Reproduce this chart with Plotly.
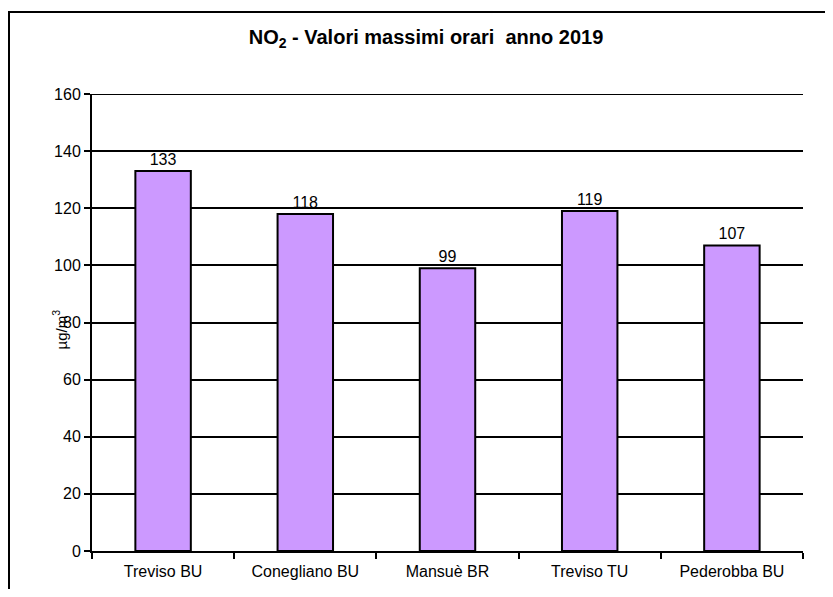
import plotly.graph_objects as go

categories = ["Treviso BU", "Conegliano BU", "Mansuè BR", "Treviso TU", "Pederobba BU"]
values = [133, 118, 99, 119, 107]
y_ticks = [0, 20, 40, 60, 80, 100, 120, 140, 160]

# page has an 8px body margin; work in figure coordinates = screen - 8
OFF = 8
W, H = 817, 581
L, T = 92 - OFF, 94 - OFF
R = W - (803 - OFF)
B = H - (551 - OFF)
pw, ph = W - L - R, H - T - B

def px_x(x):
    return (x - OFF - L) / pw

def px_y(y):
    return (H - B - (y - OFF)) / ph

font = "Liberation Sans, Arial, sans-serif"

fig = go.Figure()
fig.add_trace(go.Bar(
    x=categories, y=values,
    marker=dict(color="#CC99FF", line=dict(color="black", width=2)),
    text=[str(v) for v in values], textposition="outside",
    textfont=dict(family=font, size=16, color="black"),
    cliponaxis=False,
))

fig.update_layout(
    width=W, height=H,
    margin=dict(l=L, r=R, t=T, b=B),
    paper_bgcolor="white", plot_bgcolor="white",
    bargap=0.61,
    showlegend=False,
    font=dict(family=font, size=16, color="black"),
    title=dict(text="<b>NO<sub>2</sub> - Valori massimi orari  anno 2019</b>",
               x=px_x(426), xref="paper", xanchor="center",
               y=1 - (37 - OFF) / H, yanchor="middle",
               font=dict(family=font, size=20, color="black")),
    xaxis=dict(showline=True, linecolor="black", linewidth=2,
               ticks="outside", tickson="boundaries", ticklen=6, tickwidth=2, tickcolor="black",
               tickfont=dict(family=font, size=16, color="black"),
               ticklabelstandoff=5, automargin=False,
               showgrid=False, fixedrange=True),
    yaxis=dict(range=[0, 160], tickvals=y_ticks, showline=True, linecolor="black", linewidth=2,
               ticks="outside", ticklen=6, tickwidth=2, tickcolor="black",
               showgrid=True, gridcolor="black", gridwidth=2,
               tickfont=dict(family=font, size=16, color="black"),
               automargin=False,
               zeroline=False, fixedrange=True),
    shapes=[
        dict(type="rect", xref="paper", yref="paper",
             x0=px_x(9), x1=px_x(850), y0=px_y(620), y1=px_y(12),
             line=dict(color="black", width=2), fillcolor="rgba(0,0,0,0)", layer="below"),
        dict(type="line", xref="paper", yref="y", x0=0, x1=1, y0=160, y1=160,
             line=dict(color="black", width=2), layer="below"),
    ],
    annotations=[dict(text="µg/m<sup>3</sup>", xref="paper", yref="paper",
                      x=px_x(48), y=px_y(330), textangle=-90, showarrow=False,
                      font=dict(family=font, size=15, color="black"))],
)

fig.write_html("out.html")
